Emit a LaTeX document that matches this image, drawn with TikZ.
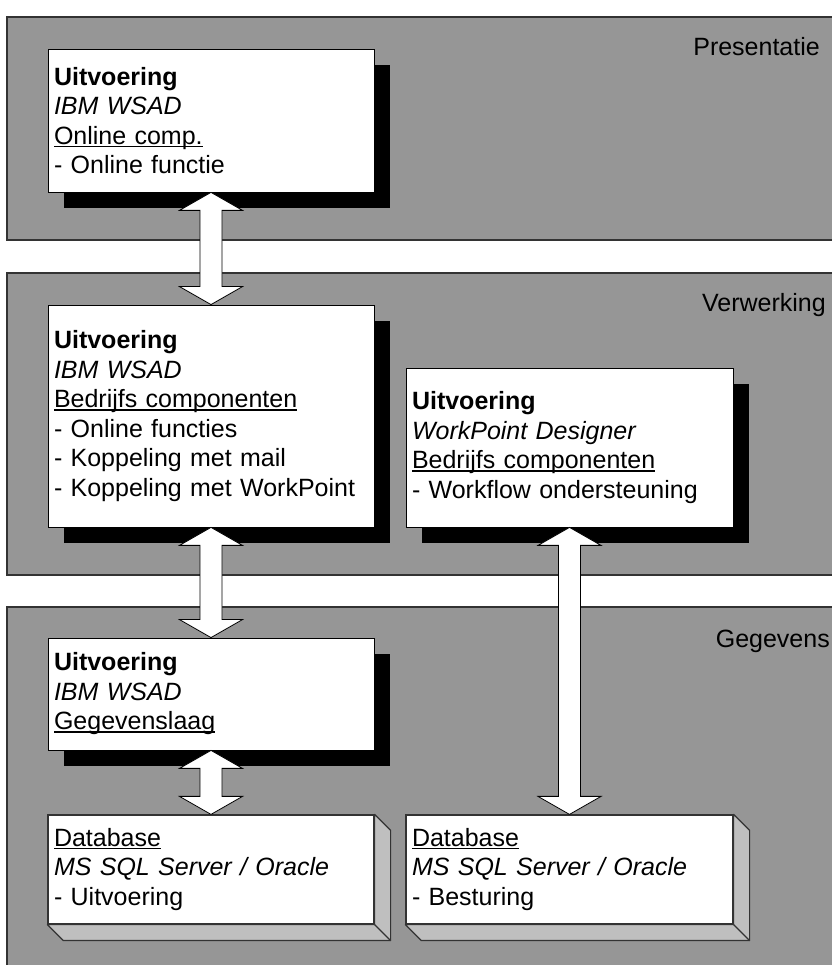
\documentclass[tikz,border=0pt]{standalone}
\usepackage{fontspec}
\setmainfont{Liberation Sans}
\usetikzlibrary{positioning, calc, shadows}

\definecolor{laaggrijs}{gray}{0.59}
\definecolor{kantgrijs}{gray}{0.75}
\definecolor{lijngrijs}{gray}{0.2}

\newsavebox\onderbox
\newcommand\onder[1]{\leavevmode\sbox\onderbox{#1}\rlap{\rule[-3pt]{\wd\onderbox}{1.5pt}}\usebox\onderbox}

% dubbele blokpijl van #1 naar #2
\newcommand\pijl[2]{%
  \draw [blokpijl] (#1.south) -- ++(31.5,-18) -- ++(-20.5,0)
    -- ($(#2.north)+(11,18)$) -- ++(20.5,0) -- (#2.north)
    -- ++(-31.5,18) -- ++(20.5,0) -- ($(#1.south)+(-11,-18)$)
    -- ++(-20.5,0) -- cycle;}

% schuine kant onder en rechts van een database
\newcommand\kant[1]{%
  \draw [kantvlak] (#1.north east) -- ++(16,-16) -- ($(#1.south east)+(16,-16)$)
    -- ($(#1.south west)+(16,-16)$) -- (#1.south west) -- (#1.south east) -- cycle;
  \draw [kantvlak] (#1.south east) -- ++(16,-16);}

\tikzset{
  laag/.style={draw=lijngrijs, fill=laaggrijs, line width=1.2pt},
  laagnaam/.style={anchor=base east, inner sep=0pt, font=\fontsize{25}{29.5}\selectfont},
  vak/.style={draw=black, fill=white, line width=0.8pt, inner xsep=6pt, inner ysep=0pt,
    align=left, font=\fontsize{25}{29.5}\selectfont},
  onderdeel/.style={vak, drop shadow={shadow xshift=16pt, shadow yshift=-16pt,
    fill=black, opacity=1}},
  database/.style={vak, draw=lijngrijs, line width=1.2pt},
  kantvlak/.style={draw=lijngrijs, fill=kantgrijs, line width=1.2pt, line join=round},
  blokpijl/.style={draw=black, fill=white, line width=0.8pt},
}

\begin{document}
\begin{tikzpicture}[x=1pt, y=1pt]
  \useasboundingbox (0,0) rectangle (831,965);

  % lagen
  \draw [laag] (7,948) rectangle (860,725);
  \draw [laag] (7,692) rectangle (860,390);
  \draw [laag] (7,358) rectangle (860,-20);
  \node [laagnaam] (presentatie) at (820,909) {Presentatie};
  \node [laagnaam] (verwerking) at (826,653) {Verwerking};
  \node [laagnaam] (gegevens) at (830,317) {Gegevens};

  % onderdelen
  \node [onderdeel, text width=314pt, minimum height=143pt] (online) at (211,844.5)
    {\textbf{Uitvoering}\\ \textit{IBM WSAD}\\ \onder{Online comp.}\\ - Online functie};
  \node [onderdeel, text width=314pt, minimum height=222pt] (bedrijf) at (211,549)
    {\textbf{Uitvoering}\\ \textit{IBM WSAD}\\ \onder{Bedrijfs componenten}\\
     - Online functies\\ - Koppeling met mail\\ - Koppeling met WorkPoint};
  \node [onderdeel, text width=315pt, minimum height=159pt] (workflow) at (569.5,517.5)
    {\textbf{Uitvoering}\\ \textit{WorkPoint Designer}\\ \onder{Bedrijfs componenten}\\
     - Workflow ondersteuning};
  \node [onderdeel, text width=314pt, minimum height=112pt] (gegevenslaag) at (211,271)
    {\textbf{Uitvoering}\\ \textit{IBM WSAD}\\ \onder{Gegevenslaag}};

  % databases
  \node [database, text width=314pt, minimum height=109pt] (dbuitv) at (211,95.5)
    {\onder{Database}\\ \textit{MS SQL Server / Oracle}\\ - Uitvoering};
  \node [database, text width=315pt, minimum height=109pt] (dbbest) at (569.5,95.5)
    {\onder{Database}\\ \textit{MS SQL Server / Oracle}\\ - Besturing};
  \kant{dbuitv}
  \kant{dbbest}

  % pijlen
  \pijl{online}{bedrijf}
  \pijl{bedrijf}{gegevenslaag}
  \pijl{gegevenslaag}{dbuitv}
  \pijl{workflow}{dbbest}
\end{tikzpicture}
\end{document}
